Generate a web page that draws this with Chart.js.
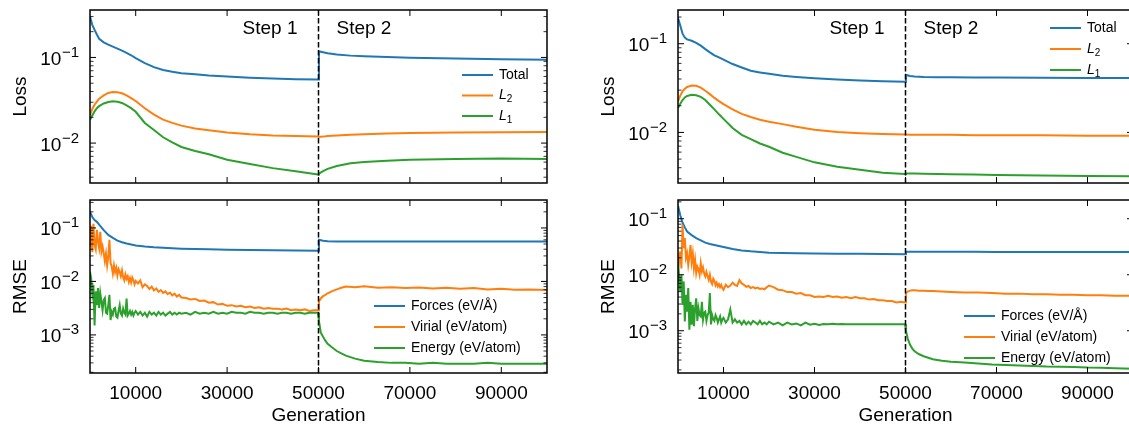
<!DOCTYPE html>
<html>
<head>
<meta charset="utf-8">
<script src="https://cdn.jsdelivr.net/npm/chart.js@4"></script>
<style>
  html, body { margin: 0; padding: 0; background: #fff; overflow: hidden; }
  #wrap { position: relative; width: 1129px; height: 432px; overflow: hidden; }
  canvas { position: absolute; }
</style>
</head>
<body>
<div id="wrap">
  <canvas id="lossA" width="560" height="190" style="left:0;top:0"></canvas>
  <canvas id="rmseA" width="560" height="242" style="left:0;top:190px"></canvas>
  <canvas id="lossB" width="560" height="190" style="left:588px;top:0"></canvas>
  <canvas id="rmseB" width="560" height="242" style="left:588px;top:190px"></canvas>
</div>
<script>
// generations for the smooth curves (loss terms, force RMSE)
const genSmooth = [0, 500, 1000, 1500, 2000, 3000, 4000, 5000, 6000, 7000, 8000, 9000, 10000,
  12000, 14000, 16000, 18000, 20000, 23000, 26000, 30000, 35000, 40000, 45000, 49900,
  50100, 51000, 52000, 54000, 57000, 60000, 65000, 70000, 80000, 90000, 100000];

// generations for the noisy curves (virial, energy RMSE)
const genNoisy = [0, 250, 500, 750, 1000, 1250, 1500, 1750, 2000, 2250, 2500, 2750, 3000, 3250,
  3500, 3750, 4000, 4250, 4500, 4750, 5000, 5250, 5500, 5750, 6000, 6250, 6500, 6750, 7000,
  7250, 7500, 7750, 8000, 8250, 8500, 8750, 9000, 9250, 9500, 9750, 10000,
  10500, 11000, 11500, 12000, 12500, 13000, 13500, 14000, 14500, 15000, 15500, 16000, 16500,
  17000, 17500, 18000, 18500, 19000, 19500, 20000,
  21000, 22000, 23000, 24000, 25000, 26000, 27000, 28000, 29000, 30000, 31000, 32000, 33000,
  34000, 35000, 36000, 37000, 38000, 39000, 40000, 41000, 42000, 43000, 44000, 45000, 46000,
  47000, 48000, 49000, 49900,
  50100, 50500, 51000, 51500, 52000, 53000, 54000, 55000, 56000, 58000, 60000, 63000, 66000,
  69000, 72000, 75000, 78000, 81000, 84000, 87000, 90000, 93000, 96000, 100000];

const xTicks = [10000, 30000, 50000, 70000, 90000];
const splitGen = 50000;
const lossTicks = [0.1, 0.01];
const rmseTicks = [0.1, 0.01, 0.001];
const lossNames = ['Total', 'L_2', 'L_1'];
const rmseNames = ['Forces (eV/\u00C5)', 'Virial (eV/atom)', 'Energy (eV/atom)'];
const stepNames = ['Step 1', 'Step 2'];

// ---- left run ----
const totalA = [0.30, 0.24, 0.21, 0.185, 0.165, 0.150, 0.141, 0.134, 0.127, 0.120, 0.113, 0.106, 0.098,
  0.086, 0.077, 0.0715, 0.068, 0.0655, 0.0635, 0.0615, 0.0598, 0.058, 0.0568, 0.0558, 0.0552,
  0.118, 0.115, 0.112, 0.108, 0.105, 0.103, 0.101, 0.099, 0.097, 0.095, 0.094];
const l2A = [0.0214, 0.025, 0.028, 0.0305, 0.033, 0.036, 0.0385, 0.0394, 0.0392, 0.0382, 0.036, 0.0335, 0.031,
  0.0255, 0.0215, 0.0188, 0.0172, 0.0160, 0.0148, 0.0141, 0.0133, 0.0127, 0.0123, 0.0121, 0.0119,
  0.0118, 0.0119, 0.0121, 0.0123, 0.0125, 0.0127, 0.0129, 0.0131, 0.0133, 0.0134, 0.0135];
const l1A = [0.0187, 0.021, 0.0235, 0.0255, 0.027, 0.029, 0.0302, 0.0307, 0.0303, 0.0294, 0.0275, 0.0256, 0.0232,
  0.0172, 0.0142, 0.0117, 0.0102, 0.0090, 0.0081, 0.0074, 0.0064, 0.0057, 0.0051, 0.0047, 0.0043,
  0.0044, 0.0047, 0.0050, 0.0054, 0.0058, 0.0060, 0.0062, 0.0064, 0.0065, 0.0066, 0.0065];
const forcesA = [0.20, 0.16, 0.14, 0.13, 0.115, 0.091, 0.074, 0.065, 0.058, 0.054, 0.051, 0.049, 0.047,
  0.045, 0.0435, 0.0425, 0.0418, 0.041, 0.0403, 0.0398, 0.0393, 0.0388, 0.0383, 0.0379, 0.0376,
  0.0600, 0.0575, 0.0565, 0.056, 0.0557, 0.0555, 0.0555, 0.0556, 0.0556, 0.0557, 0.0557];
const virialA = [0.045, 0.11, 0.035, 0.12, 0.048, 0.04, 0.092, 0.055, 0.042, 0.085, 0.036, 0.045, 0.034, 0.024,
  0.033, 0.020, 0.029, 0.06, 0.022, 0.019, 0.014, 0.02, 0.015, 0.018, 0.013, 0.017, 0.015, 0.0125, 0.016,
  0.012, 0.0105, 0.0135, 0.0112, 0.0125, 0.0098, 0.0115, 0.0095, 0.0118, 0.0105, 0.0088, 0.0102,
  0.0092, 0.0105, 0.0078, 0.0088, 0.0082, 0.0072, 0.0080, 0.0068, 0.0074, 0.0064, 0.0069, 0.0061, 0.0065,
  0.0058, 0.0062, 0.0055, 0.0059, 0.0052, 0.0056, 0.0050,
  0.0049, 0.0046, 0.0047, 0.0043, 0.0044, 0.0040, 0.0041, 0.0037, 0.0038, 0.0035, 0.0036, 0.0034, 0.0035,
  0.0033, 0.0034, 0.0032, 0.0033, 0.0031, 0.0032, 0.0031, 0.0031, 0.0030, 0.0031, 0.0029, 0.0030, 0.0029,
  0.0030, 0.0028, 0.0029, 0.0029,
  0.0042, 0.0048, 0.0053, 0.0056, 0.0060, 0.0066, 0.0071, 0.0076, 0.0080, 0.0078, 0.0081, 0.0076, 0.0078,
  0.0075, 0.0077, 0.0074, 0.0076, 0.0073, 0.0075, 0.0071, 0.0073, 0.0070, 0.0071, 0.0069];
const energyA = [0.015, 0.0115, 0.006, 0.0086, 0.0015, 0.0065, 0.0036, 0.0075, 0.0032, 0.006, 0.0042, 0.0029,
  0.0045, 0.0049, 0.0026, 0.0025, 0.0036, 0.0056, 0.0019, 0.0027, 0.0024, 0.0031, 0.0032, 0.0022, 0.0021,
  0.0028, 0.0036, 0.0025, 0.0023, 0.0031, 0.0026, 0.0024, 0.0048, 0.0023, 0.0025, 0.0028, 0.0024, 0.0027,
  0.0023, 0.0026, 0.0028,
  0.0024, 0.0027, 0.0023, 0.0026, 0.0022, 0.0027, 0.0024, 0.0026, 0.0023, 0.0027, 0.0024, 0.0026, 0.0023,
  0.0025, 0.0027, 0.0024, 0.0026, 0.0024, 0.0026, 0.0025,
  0.0026, 0.0024, 0.0027, 0.0025, 0.0026, 0.0025, 0.0027, 0.0025, 0.0026, 0.0025, 0.0027, 0.0026, 0.0026,
  0.0025, 0.0027, 0.0026, 0.0026, 0.0025, 0.0026, 0.0026, 0.0025, 0.0026, 0.0026, 0.0025, 0.0026, 0.0026,
  0.0025, 0.0026, 0.0026, 0.0026,
  0.0018, 0.0011, 0.00092, 0.00078, 0.00068, 0.00058, 0.00050, 0.00045, 0.00041, 0.00036, 0.00033, 0.00031,
  0.00030, 0.00030, 0.00029, 0.00030, 0.00029, 0.00029, 0.00029, 0.00030, 0.00029, 0.00029, 0.00029, 0.00029];

// ---- right run ----
const totalB = [0.195, 0.16, 0.13, 0.117, 0.112, 0.108, 0.102, 0.095, 0.087, 0.080, 0.074, 0.070, 0.066,
  0.059, 0.054, 0.0495, 0.0475, 0.0458, 0.0435, 0.0422, 0.0408, 0.0395, 0.0385, 0.0378, 0.0373,
  0.0445, 0.0432, 0.0426, 0.0422, 0.042, 0.0418, 0.0416, 0.0415, 0.0413, 0.0412, 0.0411];
const l2B = [0.0224, 0.026, 0.029, 0.031, 0.0325, 0.0337, 0.0335, 0.032, 0.0295, 0.027, 0.0245, 0.0225, 0.0209,
  0.0182, 0.0162, 0.0149, 0.0139, 0.0132, 0.0124, 0.0116, 0.0107, 0.0101, 0.0098, 0.0096, 0.0095,
  0.0095, 0.0094, 0.0094, 0.0094, 0.0094, 0.0094, 0.0093, 0.0093, 0.0093, 0.0092, 0.0092];
const l1B = [0.0188, 0.021, 0.0232, 0.0248, 0.0258, 0.0266, 0.0262, 0.0252, 0.0232, 0.0205, 0.0182, 0.0160, 0.0142,
  0.0112, 0.0094, 0.0084, 0.0075, 0.0069, 0.0059, 0.0053, 0.0046, 0.0041, 0.0038, 0.0035, 0.0034,
  0.00345, 0.00345, 0.00345, 0.00343, 0.0034, 0.00338, 0.00335, 0.00332, 0.00327, 0.00323, 0.0032];
const forcesB = [0.17, 0.115, 0.085, 0.07, 0.059, 0.051, 0.045, 0.041, 0.0375, 0.0355, 0.034, 0.0325, 0.0312,
  0.0288, 0.0272, 0.0262, 0.0255, 0.0248, 0.0245, 0.0242, 0.024, 0.0238, 0.0236, 0.0234, 0.0232,
  0.0258, 0.0258, 0.0257, 0.0257, 0.0256, 0.0256, 0.0256, 0.0255, 0.0255, 0.0255, 0.0255];
const virialB = [0.024, 0.018, 0.026, 0.013, 0.078, 0.030, 0.045, 0.020, 0.024, 0.015, 0.021, 0.034, 0.017,
  0.024, 0.013, 0.0185, 0.0107, 0.014, 0.0125, 0.010, 0.016, 0.0115, 0.0135, 0.0105, 0.0093, 0.0112, 0.0095,
  0.0081, 0.010, 0.0075, 0.0068, 0.0085, 0.0078, 0.0065, 0.0072, 0.0062, 0.0068, 0.0060, 0.0066, 0.0058, 0.0054,
  0.0066, 0.0060, 0.0064, 0.0072, 0.0066, 0.0063, 0.0080, 0.0070, 0.0066, 0.0061, 0.0063, 0.0058, 0.0060,
  0.0057, 0.0059, 0.0056, 0.0057, 0.0055, 0.0060, 0.0064,
  0.0060, 0.0054, 0.0053, 0.0049, 0.0049, 0.0046, 0.0047, 0.0043, 0.0043, 0.0040, 0.0041, 0.0040, 0.0042,
  0.0040, 0.0041, 0.0039, 0.0040, 0.0038, 0.0040, 0.0038, 0.0038, 0.0036, 0.0037, 0.0035, 0.0035, 0.0034,
  0.0034, 0.0032, 0.0033, 0.0032,
  0.0047, 0.0050, 0.0052, 0.0053, 0.0053, 0.0052, 0.0052, 0.0051, 0.0051, 0.0050, 0.0049, 0.0048, 0.0048,
  0.0047, 0.0046, 0.0046, 0.0045, 0.0045, 0.0044, 0.0044, 0.0043, 0.0043, 0.0042, 0.0042];
const energyB = [0.0173, 0.0090, 0.0050, 0.0100, 0.0029, 0.0076, 0.00147, 0.0044, 0.0022, 0.0058, 0.00104,
  0.0033, 0.00128, 0.0029, 0.0012, 0.0025, 0.0038, 0.0015, 0.0025, 0.0019, 0.0018, 0.0033, 0.00157, 0.0021,
  0.0022, 0.0015, 0.0019, 0.0021, 0.0047, 0.0013, 0.0019, 0.0016, 0.0015, 0.0019, 0.0017, 0.0014, 0.0016,
  0.0018, 0.0014, 0.0016, 0.0017,
  0.0014, 0.0016, 0.0024, 0.0014, 0.0016, 0.0014, 0.0015, 0.0013, 0.0015, 0.0013, 0.00145, 0.0013, 0.0015,
  0.0014, 0.0013, 0.0015, 0.0013, 0.0014, 0.0013, 0.00145,
  0.0013, 0.0014, 0.00125, 0.0014, 0.0013, 0.00135, 0.00125, 0.0014, 0.00128, 0.00133, 0.00127, 0.00132,
  0.0013, 0.00133, 0.0013, 0.00132, 0.0013, 0.00131, 0.0013, 0.00131, 0.0013, 0.00131, 0.0013, 0.0013,
  0.00131, 0.0013, 0.0013, 0.0013, 0.0013, 0.0013,
  0.0010, 0.00072, 0.00056, 0.00048, 0.00043, 0.00038, 0.00035, 0.00033, 0.00031, 0.00029, 0.00028, 0.00027,
  0.00026, 0.00025, 0.000245, 0.00024, 0.000235, 0.00023, 0.000228, 0.000225, 0.00022, 0.000218, 0.000215, 0.00021];

const colors = ['#1f77b4', '#ff7f0e', '#2ca02c'];
const FONT = "'Liberation Sans', Arial, Helvetica, sans-serif";
Chart.defaults.font.family = FONT;
Chart.defaults.color = '#000';

function seg(ctx, x1, y1, x2, y2) {
  ctx.beginPath(); ctx.moveTo(x1, y1); ctx.lineTo(x2, y2); ctx.stroke();
}

function legendText(ctx, text, x, y) {
  ctx.textAlign = 'left';
  ctx.textBaseline = 'middle';
  if (text.includes('_')) {
    const [main, sub] = text.split('_');
    ctx.font = 'italic 14px ' + FONT;
    ctx.fillText(main, x, y);
    const w = ctx.measureText(main).width;
    ctx.font = '10px ' + FONT;
    ctx.fillText(sub, x + w, y + 4);
  } else {
    ctx.font = '14px ' + FONT;
    ctx.fillText(text, x, y);
  }
}

// "10" with a raised exponent, like the mathtext labels of the original
function powerLabel(ctx, v, xr, yc) {
  const e = Math.round(Math.log10(v));
  const expText = (e < 0 ? '\u2212' : '') + Math.abs(e);
  ctx.textAlign = 'right';
  ctx.textBaseline = 'alphabetic';
  ctx.font = '15px ' + FONT;
  const w = ctx.measureText(expText).width;
  ctx.fillText(expText, xr, yc - 0.5);
  ctx.font = '19px ' + FONT;
  ctx.fillText('10', xr - w - 0.5, yc + 7.5);
}

// frame, inward ticks, y labels, split line, step labels and legend
const panelDecor = {
  id: 'panelDecor',
  afterDatasetsDraw(chart, args, opts) {
    const { ctx, chartArea: a } = chart;
    const x = chart.scales.x, y = chart.scales.y;
    ctx.save();
    ctx.strokeStyle = '#000';
    ctx.fillStyle = '#000';

    const xs = x.getPixelForValue(splitGen);
    ctx.lineWidth = 1.5;
    ctx.setLineDash([5.5, 2.5]);
    seg(ctx, xs, a.top, xs, a.bottom);
    ctx.setLineDash([]);

    ctx.lineWidth = 1;
    xTicks.forEach(v => {
      const p = x.getPixelForValue(v);
      seg(ctx, p, a.bottom, p, a.bottom - 6);
      seg(ctx, p, a.top, p, a.top + 6);
    });

    const lo = Math.floor(Math.log10(y.min)), hi = Math.ceil(Math.log10(y.max));
    for (let k = lo; k <= hi; k++) {
      for (let m = 1; m <= 9; m++) {
        const v = m * Math.pow(10, k);
        if (v < y.min || v > y.max) continue;
        const p = y.getPixelForValue(v);
        const len = m === 1 ? 6 : 3.5;
        ctx.lineWidth = m === 1 ? 1 : 0.8;
        seg(ctx, a.left, p, a.left + len, p);
        seg(ctx, a.right, p, a.right - len, p);
      }
    }

    ctx.lineWidth = 1.5;
    ctx.strokeRect(a.left, a.top, a.right - a.left, a.bottom - a.top);

    opts.yTicks.forEach(v => powerLabel(ctx, v, a.left - 11, y.getPixelForValue(v)));

    if (opts.steps) {
      ctx.font = '19px ' + FONT;
      ctx.textBaseline = 'middle';
      ctx.textAlign = 'right';
      ctx.fillText(stepNames[0], xs - 21, a.top + 19);
      ctx.textAlign = 'left';
      ctx.fillText(stepNames[1], xs + 18, a.top + 19);
    }

    const lg = opts.legend;
    chart.data.datasets.forEach((ds, i) => {
      const yy = a.top + lg.top + i * lg.gap;
      const x0 = a.right - lg.right;
      ctx.strokeStyle = ds.borderColor;
      ctx.lineWidth = 2;
      seg(ctx, x0, yy, x0 + 31, yy);
      ctx.fillStyle = '#000';
      legendText(ctx, ds.label, x0 + 37, yy);
    });
    ctx.restore();
  }
};

function series(gens, vals, i, label) {
  return {
    label,
    data: gens.map((g, k) => ({ x: g, y: vals[k] })),
    borderColor: colors[i],
    backgroundColor: colors[i],
    borderWidth: 2,
    pointRadius: 0,
    tension: 0,
    fill: false,
    order: 3 - i
  };
}

function makeChart(id, datasets, cfg) {
  return new Chart(document.getElementById(id), {
    type: 'line',
    data: { datasets },
    options: {
      responsive: false,
      animation: false,
      events: [],
      layout: { padding: { top: 10, right: cfg.right, bottom: 0, left: 0 } },
      plugins: {
        legend: { display: false },
        tooltip: { enabled: false },
        panelDecor: { steps: cfg.steps, legend: cfg.legend, yTicks: cfg.yTicks }
      },
      scales: {
        x: {
          type: 'linear',
          min: 0,
          max: 100000,
          grid: { display: false, drawTicks: false },
          border: { display: false },
          afterBuildTicks: s => { s.ticks = xTicks.map(v => ({ value: v })); },
          afterFit: s => { s.height = cfg.xLabels ? 59 : 7; },
          ticks: {
            display: cfg.xLabels,
            padding: 9,
            maxRotation: 0,
            autoSkip: false,
            font: { size: 19 },
            callback: v => String(v)
          },
          title: {
            display: cfg.xLabels,
            text: 'Generation',
            font: { size: 19 },
            padding: { top: 0, bottom: 5 }
          }
        },
        y: {
          type: 'logarithmic',
          min: cfg.yMin,
          max: cfg.yMax,
          grid: { display: false, drawTicks: false },
          border: { display: false },
          afterBuildTicks: s => { s.ticks = cfg.yTicks.map(v => ({ value: v })); },
          afterFit: s => { s.width = 90; },
          ticks: { display: false },
          title: {
            display: true,
            text: cfg.yTitle,
            font: { size: 19 },
            padding: { top: 9.5, bottom: 0 }
          }
        }
      }
    },
    plugins: [panelDecor]
  });
}

makeChart('lossA', [
  series(genSmooth, totalA, 0, lossNames[0]),
  series(genSmooth, l2A, 1, lossNames[1]),
  series(genSmooth, l1A, 2, lossNames[2])
], { right: 13, yMin: 0.00342, yMax: 0.358, yTicks: lossTicks, yTitle: 'Loss', xLabels: false, steps: true,
     legend: { right: 85, top: 65, gap: 20.5 } });

makeChart('rmseA', [
  series(genSmooth, forcesA, 0, rmseNames[0]),
  series(genNoisy, virialA, 1, rmseNames[1]),
  series(genNoisy, energyA, 2, rmseNames[2])
], { right: 13, yMin: 0.000194, yMax: 0.333, yTicks: rmseTicks, yTitle: 'RMSE', xLabels: true, steps: false,
     legend: { right: 173, top: 106, gap: 21 } });

makeChart('lossB', [
  series(genSmooth, totalB, 0, lossNames[0]),
  series(genSmooth, l2B, 1, lossNames[1]),
  series(genSmooth, l1B, 2, lossNames[2])
], { right: 15, yMin: 0.00269, yMax: 0.240, yTicks: lossTicks, yTitle: 'Loss', xLabels: false, steps: true,
     legend: { right: 83, top: 18, gap: 21 } });

makeChart('rmseB', [
  series(genSmooth, forcesB, 0, rmseNames[0]),
  series(genNoisy, virialB, 1, rmseNames[1]),
  series(genNoisy, energyB, 2, rmseNames[2])
], { right: 15, yMin: 0.000176, yMax: 0.216, yTicks: rmseTicks, yTitle: 'RMSE', xLabels: true, steps: false,
     legend: { right: 169, top: 116, gap: 21 } });
</script>
</body>
</html>
